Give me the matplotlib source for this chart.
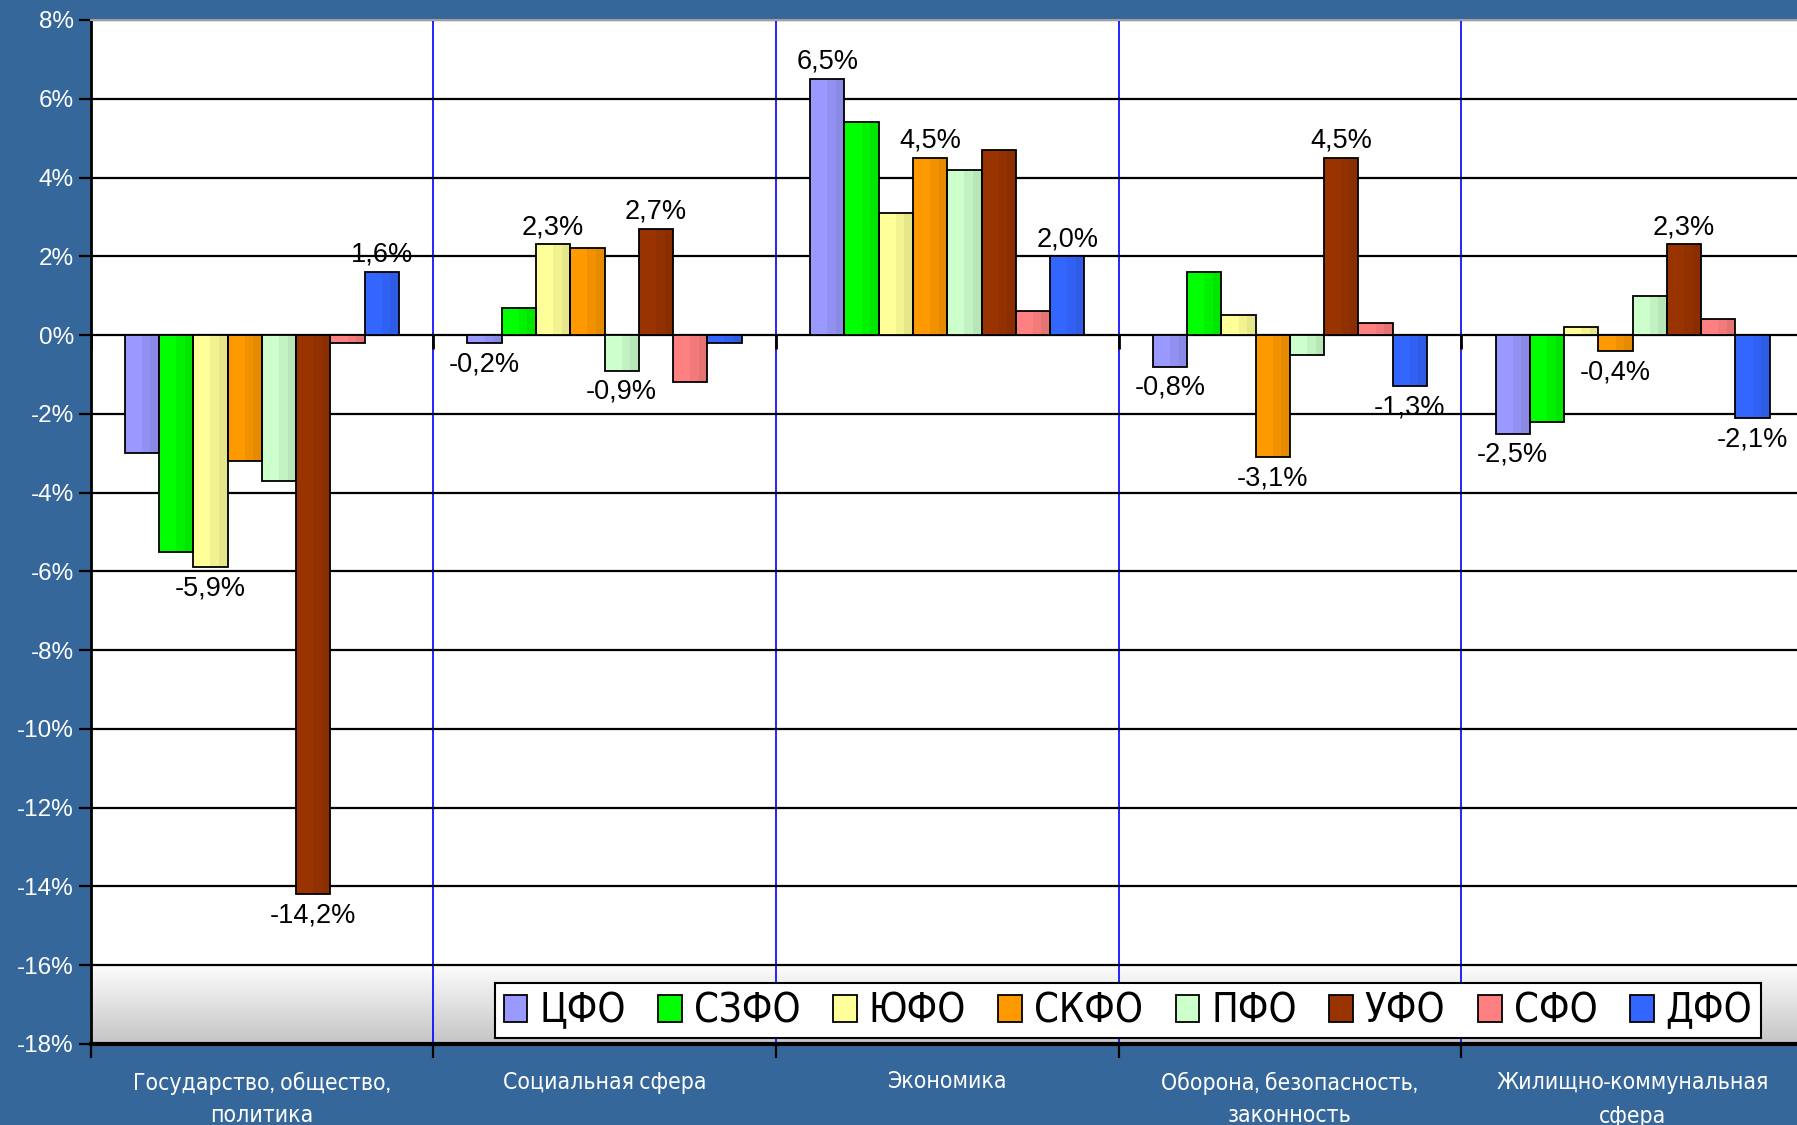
import numpy as np
import matplotlib
matplotlib.use('Agg')
import matplotlib.pyplot as plt
from matplotlib.patches import Patch
from matplotlib.colors import to_rgb
from matplotlib import font_manager

categories = ['Государство, общество,\nполитика', 'Социальная сфера', 'Экономика',
              'Оборона, безопасность,\nзаконность', 'Жилищно-коммунальная\nсфера']
districts = ['ЦФО', 'СЗФО', 'ЮФО', 'СКФО', 'ПФО', 'УФО', 'СФО', 'ДФО']
colors = ['#9999ff', '#00ff00', '#ffff99', '#ff9900', '#ccffcc', '#993300', '#ff8080', '#3366ff']

cfo  = [-3.0, -0.2, 6.5, -0.8, -2.5]
szfo = [-5.5, 0.7, 5.4, 1.6, -2.2]
yufo = [-5.9, 2.3, 3.1, 0.5, 0.2]
skfo = [-3.2, 2.2, 4.5, -3.1, -0.4]
pfo  = [-3.7, -0.9, 4.2, -0.5, 1.0]
ufo  = [-14.2, 2.7, 4.7, 4.5, 2.3]
sfo  = [-0.2, -1.2, 0.6, 0.3, 0.4]
dfo  = [1.6, -0.2, 2.0, -1.3, -2.1]
series = [cfo, szfo, yufo, skfo, pfo, ufo, sfo, dfo]

# bars that carry a value label: (district, category)
labelled = [(2, 0), (5, 0), (7, 0), (0, 1), (2, 1), (4, 1), (5, 1),
            (0, 2), (3, 2), (7, 2), (0, 3), (3, 3), (5, 3), (7, 3),
            (0, 4), (3, 4), (5, 4), (7, 4)]

yticks = np.arange(-18, 9, 2)

BG = '#35679a'
plt.rcParams['font.family'] = ['Liberation Sans', 'DejaVu Sans']

# narrow face for category and legend texts, if one is around
names = sorted({f.name for f in font_manager.fontManager.ttflist})
narrow = [n for n in names if 'Narrow' in n or 'Condensed' in n]
NARROW = narrow[:1] + ['DejaVu Sans']

fig = plt.figure(figsize=(17.97, 11.25), dpi=100, facecolor=BG)
ax = fig.add_axes([90.5 / 1797, 1 - 1044 / 1125, (1804 - 90.5) / 1797, (1044 - 20) / 1125])
ax.set_facecolor('white')

x = np.arange(len(categories))
w = 0.1


def shade(c, f):
    r, g, b = to_rgb(c)
    return (r * f, g * f, b * f)


for j, (vals, col) in enumerate(zip(series, colors)):
    xs = x + (j - 3.5) * w
    ax.bar(xs, vals, w, color=col, edgecolor='none', zorder=3)
    ax.bar(xs + w * 0.125, vals, w * 0.25, color=shade(col, 0.95), edgecolor='none', zorder=3)
    ax.bar(xs + w * 0.375, vals, w * 0.25, color=shade(col, 0.9), edgecolor='none', zorder=3)
    ax.bar(xs, vals, w, fill=False, edgecolor='black', linewidth=1.3, zorder=4)

for j, i in labelled:
    v = series[j][i]
    xc = x[i] + (j - 3.5) * w
    txt = f'{v:.1f}%'.replace('.', ',')
    if v >= 0:
        ax.annotate(txt, (xc, v), xytext=(0, 3), textcoords='offset points',
                    ha='center', va='bottom', fontsize=19.5, zorder=6)
    else:
        ax.annotate(txt, (xc, v), xytext=(0, -6), textcoords='offset points',
                    ha='center', va='top', fontsize=19.5, zorder=6)

# grey fade at the bottom of the plot area
grad = np.linspace(0.77, 0.99, 100)[:, None]
ax.imshow(np.dstack([grad] * 3), extent=(-0.5, 4.5, -18, -16), origin='lower',
          aspect='auto', zorder=0)
ax.set_xlim(-0.5, 4.5)
ax.set_ylim(-18, 8)

for yv in yticks:
    ax.axhline(yv, color='black', linewidth=1.6, zorder=2)
for b in np.arange(0.5, 4.5, 1):
    ax.axvline(b, color='#0000ff', linewidth=1.2, zorder=1)
ax.vlines(np.arange(-0.5, 4.5, 1), 0, -0.35, color='black', linewidth=2, zorder=5)

ax.set_yticks(yticks)
ax.set_yticklabels([f'{v}%' for v in yticks], color='white', fontsize=17.5)
ax.tick_params(axis='y', length=9, width=1.6, color='black', pad=3)

ax.set_xticks(np.arange(-0.5, 5, 1))
ax.set_xticklabels([])
ax.tick_params(axis='x', which='major', length=10, width=1.6, color='black')
ax.set_xticks(x, minor=True)
ax.set_xticklabels(categories, minor=True, color='white', fontsize=16.5,
                   family=NARROW, fontstretch='condensed', linespacing=1.7)
ax.tick_params(axis='x', which='minor', length=0, pad=20)

ax.spines['right'].set_visible(False)
ax.spines['top'].set_color('#a0a0a0')
ax.spines['top'].set_linewidth(1.5)
ax.spines['left'].set_linewidth(2)
ax.spines['bottom'].set_linewidth(3)

handles = [Patch(facecolor=c, edgecolor='black', linewidth=1.3) for c in colors]
leg = fig.legend(handles, districts, loc='lower left', ncol=8,
                 bbox_to_anchor=(495 / 1797, 1 - 1038 / 1125), bbox_transform=fig.transFigure,
                 borderaxespad=0, fancybox=False, framealpha=1, edgecolor='black',
                 prop={'family': NARROW, 'size': 28.5, 'stretch': 'condensed'},
                 handlelength=0.6, handleheight=0.7,
                 handletextpad=0.3, columnspacing=0.82, borderpad=0.22)
leg.get_frame().set_linewidth(1.5)
leg.set_zorder(10)

fig.savefig('out.png', dpi=100, facecolor=BG)
